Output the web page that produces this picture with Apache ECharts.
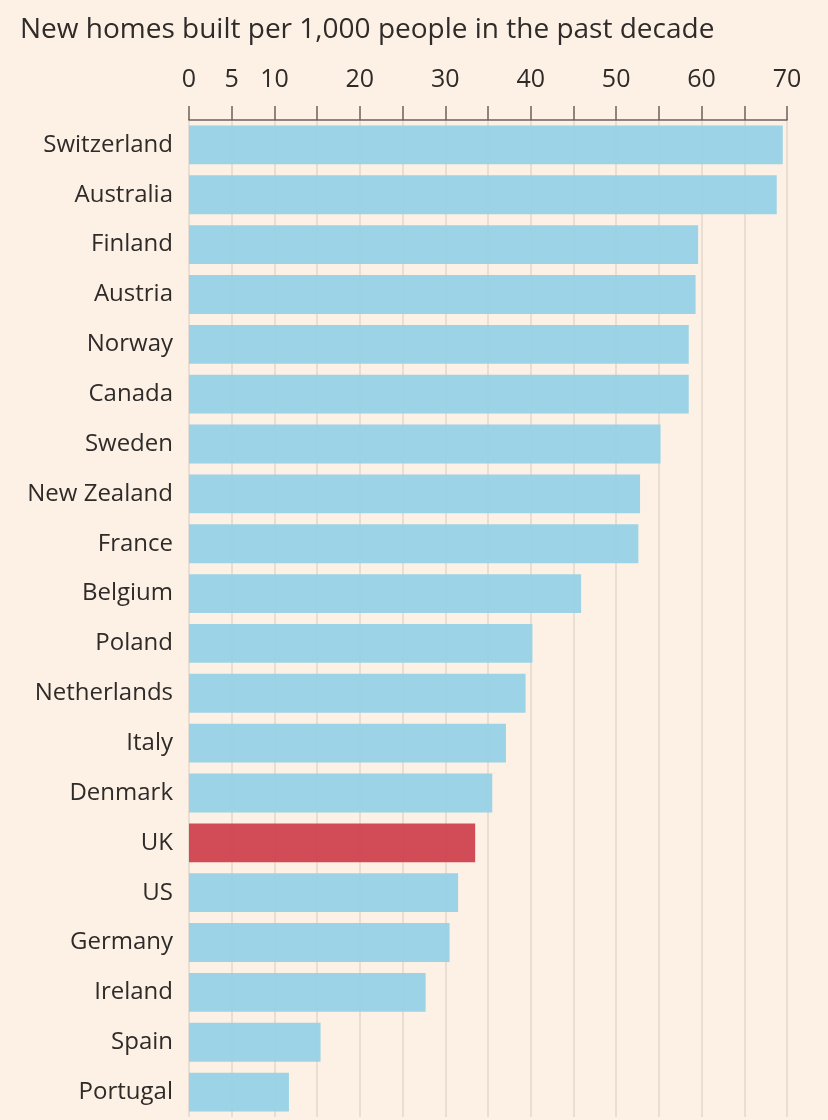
<!DOCTYPE html>
<html>
<head>
<meta charset="utf-8">
<script src="https://cdn.jsdelivr.net/npm/echarts@6/dist/echarts.min.js"></script>
<style>
  html, body { margin: 0; padding: 0; background: #fdf1e6; }
  #container { width: 828px; height: 1120px; }
</style>
</head>
<body>
<div id="container"></div>
<script>
var countries = ['Switzerland', 'Australia', 'Finland', 'Austria', 'Norway', 'Canada', 'Sweden',
  'New Zealand', 'France', 'Belgium', 'Poland', 'Netherlands', 'Italy', 'Denmark', 'UK', 'US',
  'Germany', 'Ireland', 'Spain', 'Portugal'];
var homesPer1000 = [69.5, 68.8, 59.6, 59.3, 58.5, 58.5, 55.2, 52.8, 52.6, 45.9, 40.2, 39.4,
  37.1, 35.5, 33.5, 31.5, 30.5, 27.7, 15.4, 11.7];
var shownTicks = [0, 5, 10, 20, 30, 40, 50, 60, 70];
var highlight = 'UK';

var dom = document.getElementById('container');
var myChart = echarts.init(dom);

var textColor = '#2f2b29';
var font = 'Open Sans';

var option = {
    backgroundColor: '#fdf1e6',
    animation: false,
    title: {
        text: 'New homes built per 1,000 people in the past decade',
        left: 15,
        top: 11,
        textStyle: {
            fontFamily: font,
            fontSize: 28,
            fontWeight: 'normal',
            color: textColor
        }
    },
    grid: {
        left: 189,
        right: 41,
        top: 120,
        bottom: 3,
        containLabel: false
    },
    xAxis: {
        type: 'value',
        position: 'top',
        min: 0,
        max: 70,
        interval: 5,
        axisLine: { show: true, lineStyle: { color: '#6b625c', width: 1.5 } },
        axisTick: { show: true, length: 14, lineStyle: { color: '#6b625c', width: 1.5 } },
        axisLabel: {
            margin: 28,
            fontFamily: font,
            fontSize: 25,
            color: textColor,
            formatter: function (v) {
                return shownTicks.indexOf(v) >= 0 ? String(v) : '';
            }
        },
        splitLine: { show: true, lineStyle: { color: '#e3d6ca', width: 1.5 } }
    },
    yAxis: {
        type: 'category',
        inverse: true,
        data: countries,
        axisLine: { show: false },
        axisTick: { show: false },
        axisLabel: {
            margin: 16,
            fontFamily: font,
            fontSize: 24,
            color: textColor,
            padding: [6, 0, 0, 0]
        }
    },
    series: [{
        type: 'bar',
        barCategoryGap: '22%',
        data: homesPer1000.map(function (v, i) {
            return {
                value: v,
                itemStyle: {
                    color: countries[i] === highlight ? '#cf3f4c' : '#95d1e5',
                    opacity: 0.93
                }
            };
        })
    }]
};

myChart.setOption(option, true);
</script>
</body>
</html>
